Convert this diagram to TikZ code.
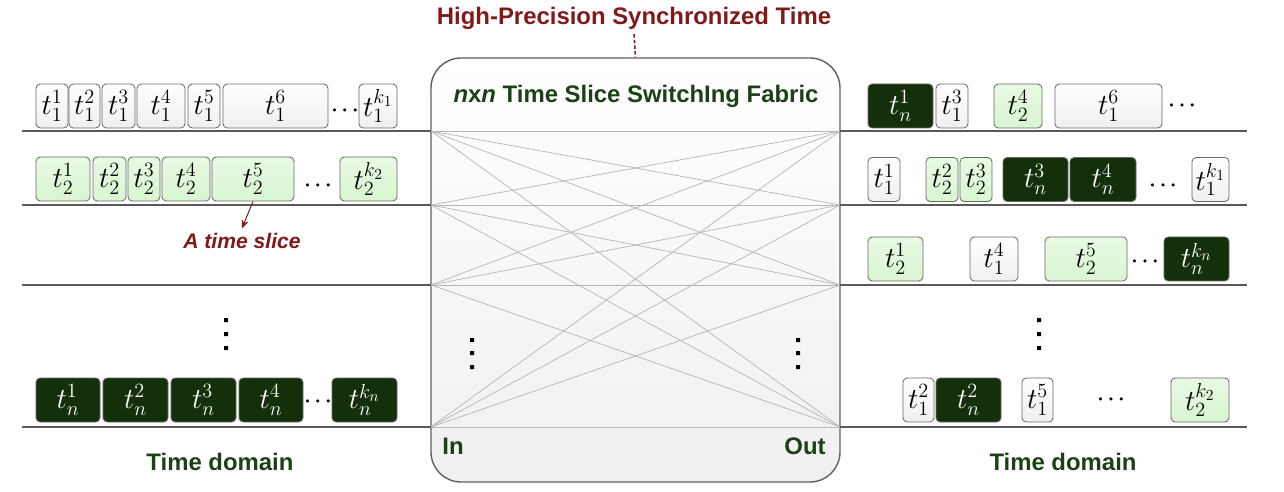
\documentclass[tikz,border=0pt]{standalone}
\usepackage{fontspec}
\setmainfont{Liberation Sans}
\usetikzlibrary{arrows.meta}

\definecolor{slicedark}{RGB}{19,48,10}
\definecolor{slicegreen}{RGB}{216,246,208}
\definecolor{labelgreen}{RGB}{26,66,20}
\definecolor{labelred}{RGB}{128,26,26}
\definecolor{edgegray}{RGB}{105,105,105}

\def\px{0.025cm}

\tikzset{
  slice/.style={draw=edgegray, line width=0.6pt, rounded corners=3pt,
    minimum height=44*\px, inner sep=0pt, font=\fontsize{21}{24}\selectfont},
  wslice/.style={slice, top color=white, bottom color=gray!12},
  gslice/.style={slice, top color=slicegreen!60, bottom color=slicegreen},
  dslice/.style={slice, fill=slicedark, text=white},
  gap/.style={inner sep=0pt, font=\fontsize{14}{16}\selectfont\boldmath},
  fabric/.style={draw=gray!75!black, line width=1pt, rounded corners=0.75cm,
    top color=white, bottom color=gray!12,
    minimum width=409*\px, minimum height=424*\px},
  wire/.style={gray!58, line width=0.5pt},
  rowline/.style={gray!70!black, line width=0.9pt},
  label/.style={text=labelgreen, font=\fontsize{17}{20}\selectfont\bfseries},
  title/.style={text=labelred, font=\fontsize{17}{20}\selectfont\bfseries},
  syncline/.style={labelred, dash pattern=on 2.5pt off 1.5pt, line width=1.1pt},
  slicenote/.style={text=labelred, font=\fontsize{15}{18}\selectfont\bfseries\itshape},
  notearrow/.style={labelred, line width=0.7pt, -{Stealth[length=6pt,width=5pt]}}
}

\begin{document}
\begin{tikzpicture}[x=0.025cm, y=-0.025cm]
\useasboundingbox (0,0) rectangle (1284,492);

% switching fabric
\node[fabric] (fab) at (635.5,270) {};
\node[title] (sync) at (634,18) {High-Precision Synchronized Time};
\draw[syncline] (sync.south) -- (fab.north);
\node[label] (fabname) at (636,96) {\textit{n}x\textit{n} Time Slice SwitchIng Fabric};
\node[label] (inlbl) at (453,446) {In};
\node[label] (outlbl) at (805,446) {Out};

\coordinate (inport1) at (431,131);
\coordinate (inport2) at (431,205);
\coordinate (inport3) at (431,285);
\coordinate (inport4) at (431,427);
\coordinate (outport1) at (840,131);
\coordinate (outport2) at (840,205);
\coordinate (outport3) at (840,285);
\coordinate (outport4) at (840,427);

\draw[wire] (inport1) -- (outport1);
\draw[wire] (inport1) -- (outport2);
\draw[wire] (inport1) -- (outport3);
\draw[wire] (inport1) -- (outport4);
\draw[wire] (inport2) -- (outport1);
\draw[wire] (inport2) -- (outport2);
\draw[wire] (inport2) -- (outport3);
\draw[wire] (inport2) -- (outport4);
\draw[wire] (inport3) -- (outport1);
\draw[wire] (inport3) -- (outport2);
\draw[wire] (inport3) -- (outport3);
\draw[wire] (inport3) -- (outport4);
\draw[wire] (inport4) -- (outport1);
\draw[wire] (inport4) -- (outport2);
\draw[wire] (inport4) -- (outport3);
\draw[wire] (inport4) -- (outport4);

\fill (470,338) rectangle +(4,4) (470,351) rectangle +(4,4) (470,365) rectangle +(4,4);
\fill (796,338) rectangle +(4,4) (796,351) rectangle +(4,4) (796,365) rectangle +(4,4);

% time lines
\coordinate (lend1) at (22,131);
\coordinate (lend2) at (22,205);
\coordinate (lend3) at (22,285);
\coordinate (lend4) at (22,427);
\coordinate (rend1) at (1247,131);
\coordinate (rend2) at (1247,205);
\coordinate (rend3) at (1247,285);
\coordinate (rend4) at (1247,427);

\draw[rowline] (lend1) -- (inport1);
\draw[rowline] (lend2) -- (inport2);
\draw[rowline] (lend3) -- (inport3);
\draw[rowline] (lend4) -- (inport4);
\draw[rowline] (outport1) -- (rend1);
\draw[rowline] (outport2) -- (rend2);
\draw[rowline] (outport3) -- (rend3);
\draw[rowline] (outport4) -- (rend4);

% input slices
\node[wslice, minimum width=32*\px] (src1a) at (52,106) {$t_1^1$};
\node[wslice, minimum width=31*\px] (src1b) at (84.5,106) {$t_1^2$};
\node[wslice, minimum width=33*\px] (src1c) at (118.5,106) {$t_1^3$};
\node[wslice, minimum width=48*\px] (src1d) at (161,106) {$t_1^4$};
\node[wslice, minimum width=32*\px] (src1e) at (204,106) {$t_1^5$};
\node[wslice, minimum width=105*\px] (src1f) at (275.5,106) {$t_1^6$};
\node[gap] (src1g) at (345,111) {$\cdots$};
\node[wslice, minimum width=38*\px] (src1k) at (378,106) {$t_1^{k_1}$};

\node[gslice, minimum width=54*\px] (src2a) at (63,179) {$t_2^1$};
\node[gslice, minimum width=33*\px] (src2b) at (109.5,179) {$t_2^2$};
\node[gslice, minimum width=32*\px] (src2c) at (144,179) {$t_2^3$};
\node[gslice, minimum width=48*\px] (src2d) at (186,179) {$t_2^4$};
\node[gslice, minimum width=82*\px] (src2e) at (253,179) {$t_2^5$};
\node[gap] (src2g) at (318,186) {$\cdots$};
\node[gslice, minimum width=57*\px] (src2k) at (368.5,179) {$t_2^{k_2}$};

\node[slicenote] (note) at (242,241) {A time slice};
\draw[notearrow] (src2e.south) -- (note.north);

\fill (224,318) rectangle +(4,4) (224,332) rectangle +(4,4) (224,346) rectangle +(4,4);

\node[dslice, minimum width=64*\px] (src4a) at (68,400) {$t_n^1$};
\node[dslice, minimum width=65*\px] (src4b) at (135.5,400) {$t_n^2$};
\node[dslice, minimum width=65*\px] (src4c) at (203.5,400) {$t_n^3$};
\node[dslice, minimum width=64*\px] (src4d) at (271,400) {$t_n^4$};
\node[gap] (src4g) at (318,402) {$\cdots$};
\node[dslice, minimum width=65*\px] (src4k) at (364.5,400) {$t_n^{k_n}$};

\node[label] (indomain) at (220,462) {Time domain};

% output slices
\node[dslice, minimum width=65*\px] (dst1a) at (900.5,106) {$t_n^1$};
\node[wslice, minimum width=32*\px] (dst1b) at (952,106) {$t_1^3$};
\node[gslice, minimum width=48*\px] (dst1c) at (1018,106) {$t_2^4$};
\node[wslice, minimum width=107*\px] (dst1d) at (1108.5,106) {$t_1^6$};
\node[gap] (dst1g) at (1182,106) {$\cdots$};

\node[wslice, minimum width=32*\px] (dst2a) at (884,179.5) {$t_1^1$};
\node[gslice, minimum width=32*\px] (dst2b) at (942,179.5) {$t_2^2$};
\node[gslice, minimum width=32*\px] (dst2c) at (976,179.5) {$t_2^3$};
\node[dslice, minimum width=65*\px] (dst2d) at (1035.5,179.5) {$t_n^3$};
\node[dslice, minimum width=66*\px] (dst2e) at (1103,179.5) {$t_n^4$};
\node[gap] (dst2g) at (1163,186) {$\cdots$};
\node[wslice, minimum width=37*\px] (dst2k) at (1210.5,179.5) {$t_1^{k_1}$};

\node[gslice, minimum width=55*\px] (dst3a) at (895.5,259) {$t_2^1$};
\node[wslice, minimum width=48*\px] (dst3b) at (994,259) {$t_1^4$};
\node[gslice, minimum width=82*\px] (dst3c) at (1086,259) {$t_2^5$};
\node[gap] (dst3g) at (1145,262) {$\cdots$};
\node[dslice, minimum width=65*\px] (dst3k) at (1196.5,259) {$t_n^{k_n}$};

\fill (1037,318) rectangle +(4,4) (1037,332) rectangle +(4,4) (1037,346) rectangle +(4,4);

\node[wslice, minimum width=31*\px] (dst4a) at (918.5,400) {$t_1^2$};
\node[dslice, minimum width=65*\px] (dst4b) at (968.5,400) {$t_n^2$};
\node[wslice, minimum width=31*\px] (dst4c) at (1037.5,400) {$t_1^5$};
\node[gap] (dst4g) at (1111,400) {$\cdots$};
\node[gslice, minimum width=58*\px] (dst4k) at (1200,400) {$t_2^{k_2}$};

\node[label] (outdomain) at (1063,462) {Time domain};

\end{tikzpicture}
\end{document}
